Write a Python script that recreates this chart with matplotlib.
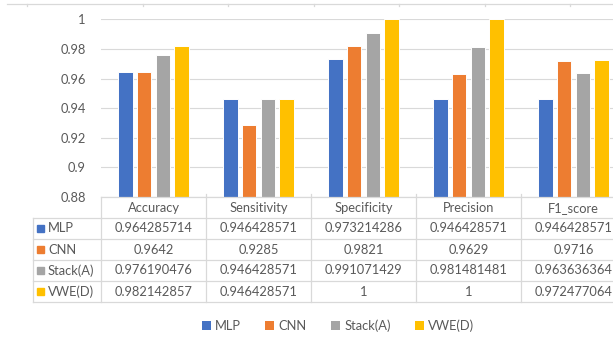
import matplotlib.pyplot as plt
from matplotlib.lines import Line2D
from matplotlib.patches import Patch, Rectangle
from matplotlib.transforms import blended_transform_factory

plt.rcParams['font.family'] = ['Lato', 'DejaVu Sans']

metrics = ["Accuracy", "Sensitivity", "Specificity", "Precision", "F1_score"]
models = ["MLP", "CNN", "Stack(A)", "VWE(D)"]
mlp = [0.964285714, 0.946428571, 0.973214286, 0.946428571, 0.946428571]
cnn = [0.9642, 0.9285, 0.9821, 0.9629, 0.9716]
stack_a = [0.976190476, 0.946428571, 0.991071429, 0.981481481, 0.963636364]
vwe_d = [0.982142857, 0.946428571, 1, 1, 0.972477064]
yticks = [0.88, 0.9, 0.92, 0.94, 0.96, 0.98, 1]

series = [mlp, cnn, stack_a, vwe_d]
colors = ["#4472C4", "#ED7D31", "#A5A5A5", "#FFC000"]
grey_txt = "#595959"
grid_c = "#D9D9D9"

W, H = 613, 337
fig = plt.figure(figsize=(W / 100, H / 100), dpi=100)


def fx(px):
    return px / W


def fy(py):
    return 1 - py / H


ax = fig.add_axes([fx(101), fy(197), fx(626) - fx(101), fy(19.4) - fy(197)])
ax.set_xlim(-0.5, len(metrics) - 0.5)
ax.set_ylim(0.88, 1.0)

step, width = 0.179, 0.138
for k, (vals, c) in enumerate(zip(series, colors)):
    xs = [i + (k - 1.5) * step for i in range(len(metrics))]
    ax.bar(xs, [v - 0.88 for v in vals], bottom=0.88, width=width, color=c,
           edgecolor="white", linewidth=0.7, zorder=3)

ax.set_yticks(yticks)
ax.set_yticklabels([f"{t:g}" for t in yticks], color=grey_txt, fontsize=9.3)
ax.tick_params(axis="y", length=0, pad=11)
ax.set_xticks([])
ax.grid(axis="y", color=grid_c, linewidth=0.8, zorder=0)
for s in ax.spines.values():
    s.set_visible(False)

# data table under the plot
tr = blended_transform_factory(ax.transData, fig.transFigure)
rows_y = [197, 218, 239, 260, 281, 302]
x_left, x_axis = 33, 101
n = len(metrics)

for j, y in enumerate(rows_y):
    x0 = x_axis if j == 0 else x_left
    fig.add_artist(Line2D([fx(x0), 1], [fy(y), fy(y)], color=grid_c, lw=0.9))
fig.add_artist(Line2D([fx(x_left), fx(x_left)], [fy(218), fy(302)], color=grid_c, lw=0.9))
fig.add_artist(Line2D([fx(x_axis), fx(x_axis)], [fy(197), fy(302)], color=grid_c, lw=0.9))
for i in range(1, n):
    fig.add_artist(Line2D([i - 0.5, i - 0.5], [fy(194), fy(302)], color=grid_c,
                          lw=0.9, transform=tr))

for i, m in enumerate(metrics):
    fig.text(i, fy(208), m, transform=tr, ha="center", va="center",
             fontsize=9.3, color=grey_txt)
for k, (name, vals, c) in enumerate(zip(models, series, colors)):
    yc = fy((rows_y[k + 1] + rows_y[k + 2]) / 2)
    fig.add_artist(Rectangle((fx(37), yc - 3.5 / H), 7 / W, 7 / H,
                             color=c, transform=fig.transFigure))
    fig.text(fx(48), yc, name, ha="left", va="center", fontsize=9.3, color=grey_txt)
    for i, v in enumerate(vals):
        fig.text(i, yc, f"{v:.9g}", transform=tr, ha="center", va="center",
                 fontsize=9.3, color=grey_txt)

# thin rule along the top edge
fig.add_artist(Line2D([fx(7), 1], [fy(4), fy(4)], color=grid_c, lw=0.9))
for px in [27, 143, 228, 314, 399, 485, 570]:
    fig.add_artist(Line2D([fx(px), fx(px)], [fy(4), fy(6)], color=grid_c, lw=0.9))

handles = [Patch(facecolor=c, label=m) for m, c in zip(models, colors)]
fig.legend(handles=handles, loc="center", bbox_to_anchor=(fx(338), fy(326)),
           ncol=4, frameon=False, fontsize=9.3, labelcolor=grey_txt,
           handlelength=0.7, handleheight=0.7, handletextpad=0.35,
           columnspacing=1.85)

fig.savefig("out.png", dpi=100)
